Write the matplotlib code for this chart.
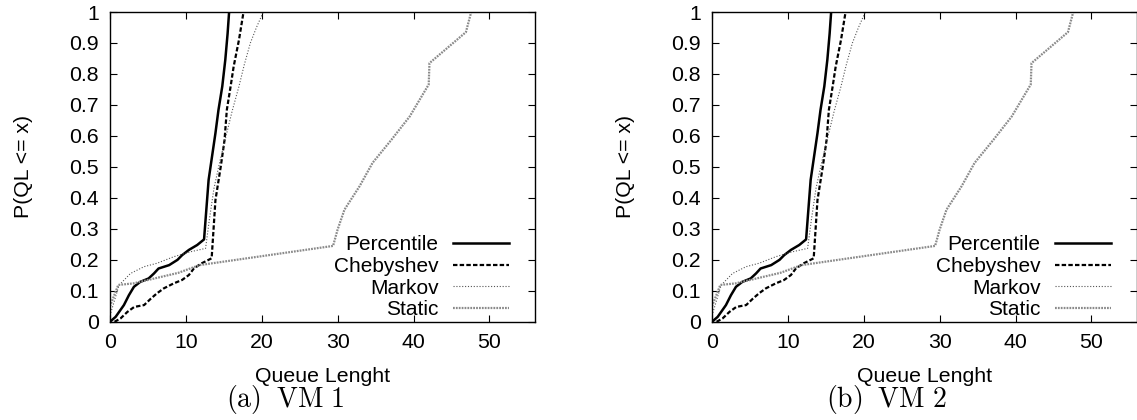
import numpy as np
import matplotlib
matplotlib.use("Agg")
import matplotlib.pyplot as plt

plt.rcParams["font.family"] = ["Liberation Sans", "DejaVu Sans"]
plt.rcParams["mathtext.fontset"] = "cm"

# -------------------------------------------------------------------
# Data (both VMs look the same)
# -------------------------------------------------------------------
pct_x = [0, 0.75, 1.84, 2.5, 3.16, 4.0, 5.1, 5.8, 6.4, 7.8, 8.9, 9.5,
         10.4, 11.5, 12.4, 13.0, 13.9, 14.3, 14.8, 15.2, 15.5, 15.7]
pct_y = [0, 0.016, 0.054, 0.086, 0.113, 0.129, 0.14, 0.156, 0.172, 0.183,
         0.2, 0.215, 0.232, 0.248, 0.266, 0.458, 0.609, 0.684, 0.76, 0.846,
         0.93, 1.0]

cheb_x = [0.6, 1.4, 2.3, 3.2, 4.5, 5.4, 6.2, 7.1, 8.4, 9.5, 10.4, 11.05,
          12.1, 13.4, 13.9, 14.6, 15.1, 15.4, 15.9, 16.3, 17.0, 17.6]
cheb_y = [0, 0.011, 0.032, 0.048, 0.054, 0.075, 0.092, 0.108, 0.124, 0.135,
          0.151, 0.172, 0.189, 0.205, 0.393, 0.501, 0.587, 0.684, 0.76,
          0.824, 0.91, 1.0]

markov_x = [0, 1.2, 2.7, 4.5, 6.2, 8.4, 10.6, 12.6, 13.1, 13.7, 14.5, 15.3,
            16.1, 17.0, 17.7, 18.5, 19.3, 20.2]
markov_y = [0.02, 0.118, 0.156, 0.178, 0.189, 0.21, 0.226, 0.237, 0.33,
            0.43, 0.52, 0.6, 0.68, 0.76, 0.83, 0.9, 0.95, 1.0]

static_x = [0, 1.1, 3.1, 9.0, 11.8, 29.4, 30.0, 30.9, 32.9, 34.6, 37.1,
            39.5, 42.0, 42.1, 46.9, 47.6]
static_y = [0.05, 0.119, 0.124, 0.158, 0.183, 0.245, 0.298, 0.362, 0.438,
            0.513, 0.588, 0.663, 0.766, 0.835, 0.935, 1.0]

series_names = ["Percentile", "Chebyshev", "Markov", "Static"]
panel_captions = [r"$\mathrm{(a)\;\ VM\ 1}$", r"$\mathrm{(b)\;\ VM\ 2}$"]
y_ticks = [0, 0.1, 0.2, 0.3, 0.4, 0.5, 0.6, 0.7, 0.8, 0.9, 1]
x_ticks = [0, 10, 20, 30, 40, 50]

FS = 15.3


def draw_panel(ax):
    ax.plot(pct_x, pct_y, color="black", lw=1.8, label=series_names[0])
    ax.plot(cheb_x, cheb_y, color="black", lw=1.6, dashes=(2.0, 1.0),
            label=series_names[1])
    ax.plot(markov_x, markov_y, color="#555555", lw=0.8, dashes=(1.0, 1.6),
            label=series_names[2])
    ax.plot(static_x, static_y, color="#8a8a8a", lw=1.6, dashes=(0.8, 0.5),
            label=series_names[3])

    ax.set_xlim(0, 56)
    ax.set_ylim(0, 1)
    ax.set_xticks(x_ticks)
    ax.set_yticks(y_ticks)
    ax.set_yticklabels([f"{v:g}" for v in y_ticks])
    ax.tick_params(direction="in", top=True, right=True, length=5,
                   width=0.8, labelsize=FS, pad=8)
    for sp in ax.spines.values():
        sp.set_linewidth(1.0)

    ax.set_xlabel("Queue Lenght", fontsize=FS)
    ax.set_ylabel("P(QL <= x)", fontsize=FS)
    ax.xaxis.set_label_coords(0.5, -0.145)
    ax.yaxis.set_label_coords(-0.181, 0.5)

    ax.legend(loc="lower right", bbox_to_anchor=(0.94, 0.008),
              frameon=False, markerfirst=False, fontsize=15,
              handlelength=2.7, handletextpad=0.7, labelspacing=0.13,
              borderpad=0, borderaxespad=0)


fig = plt.figure(figsize=(11.37, 4.2), dpi=100)
axes_rects = [[0.0967, 0.2338, 0.3738, 0.7376],
              [0.6262, 0.2338, 0.3738, 0.7376]]
caption_x = [0.2507, 0.780]

for rect, cap, cx in zip(axes_rects, panel_captions, caption_x):
    ax = fig.add_axes(rect)
    draw_panel(ax)
    fig.text(cx, 0.048, cap, ha="center", va="center", fontsize=20)

fig.savefig("out.png", dpi=100)
